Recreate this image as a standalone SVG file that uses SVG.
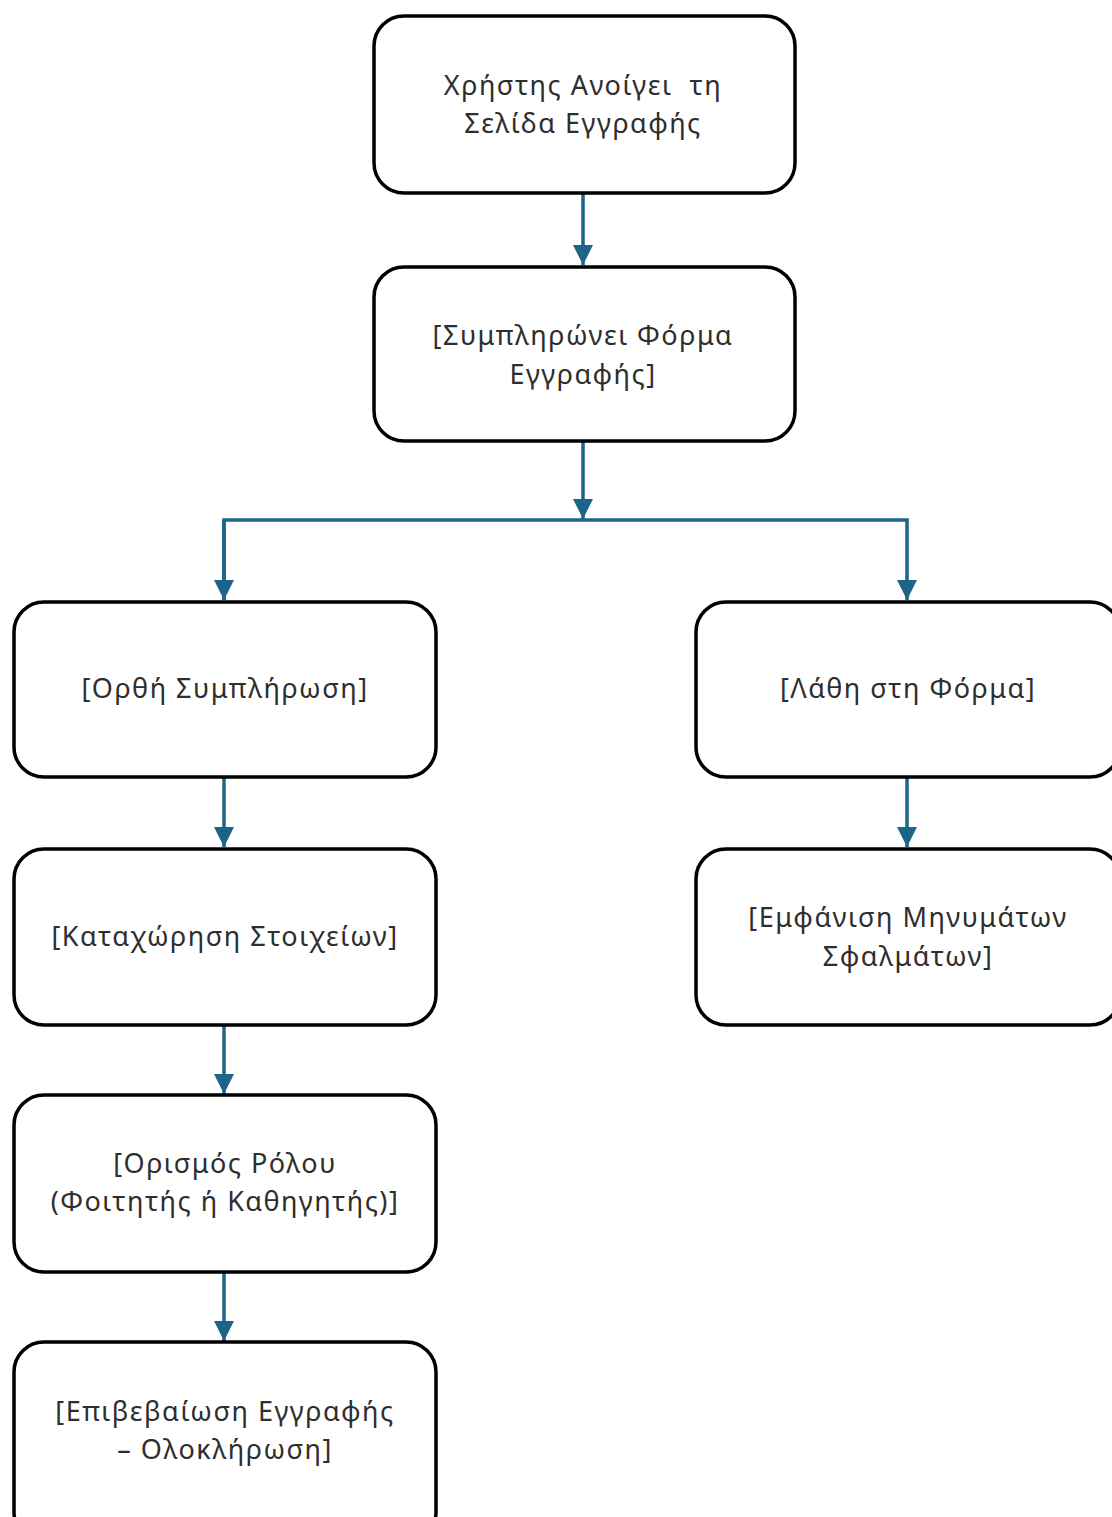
<svg xmlns="http://www.w3.org/2000/svg" width="1112" height="1517" viewBox="0 0 1112 1517">
<style>
.box{fill:#fff;stroke:#000;stroke-width:3.5}
.lbl{font-family:"Noto Sans","DejaVu Sans",sans-serif;font-size:27px;letter-spacing:1.5px;fill:#2e2e2e;text-anchor:middle;white-space:pre}
.con{fill:none;stroke:#1d6489;stroke-width:3.5}
</style>
<defs>
<marker id="ah" markerUnits="userSpaceOnUse" markerWidth="22" markerHeight="22" refX="20" refY="10" orient="auto">
<path d="M0,0 L20,10 L0,20 Z" fill="#1d6489"/>
</marker>
</defs>
<rect width="1112" height="1517" fill="#fff"/>
<g id="connectors">
<path class="con" d="M583,193 V265" marker-end="url(#ah)"/>
<path class="con" d="M583,441 V519" marker-end="url(#ah)"/>
<path class="con" d="M224,600 V520 H907 V600" marker-end="url(#ah)"/>
<path class="con" d="M224,520 V600" marker-end="url(#ah)"/>
<path class="con" d="M224,777 V847" marker-end="url(#ah)"/>
<path class="con" d="M224,1025 V1094" marker-end="url(#ah)"/>
<path class="con" d="M224,1272 V1341" marker-end="url(#ah)"/>
<path class="con" d="M907,777 V847" marker-end="url(#ah)"/>
</g>
<g id="n1"><rect class="box" x="374" y="16" width="421" height="177" rx="30"/>
<text class="lbl" x="583" y="95" xml:space="preserve">Χρήστης Ανοίγει  τη</text><text class="lbl" x="583" y="133">Σελίδα Εγγραφής</text></g>
<g id="n2"><rect class="box" x="374" y="267" width="421" height="174" rx="30"/>
<text class="lbl" x="583" y="345">[Συμπληρώνει Φόρμα</text><text class="lbl" x="583" y="384">Εγγραφής]</text></g>
<g id="n3"><rect class="box" x="14" y="602" width="422" height="175" rx="30"/>
<text class="lbl" x="225" y="698">[Ορθή Συμπλήρωση]</text></g>
<g id="n4"><rect class="box" x="696" y="602" width="424" height="175" rx="30"/>
<text class="lbl" x="908" y="698">[Λάθη στη Φόρμα]</text></g>
<g id="n5"><rect class="box" x="14" y="849" width="422" height="176" rx="30"/>
<text class="lbl" x="225" y="946">[Καταχώρηση Στοιχείων]</text></g>
<g id="n6"><rect class="box" x="696" y="849" width="424" height="176" rx="30"/>
<text class="lbl" x="908" y="927">[Εμφάνιση Μηνυμάτων</text><text class="lbl" x="908" y="966">Σφαλμάτων]</text></g>
<g id="n7"><rect class="box" x="14" y="1095" width="422" height="177" rx="30"/>
<text class="lbl" x="225" y="1173">[Ορισμός Ρόλου</text><text class="lbl" x="225" y="1211">(Φοιτητής ή Καθηγητής)]</text></g>
<g id="n8"><rect class="box" x="14" y="1342" width="422" height="200" rx="30"/>
<text class="lbl" x="225" y="1421">[Επιβεβαίωση Εγγραφής</text><text class="lbl" x="225" y="1459">– Ολοκλήρωση]</text></g>
</svg>
